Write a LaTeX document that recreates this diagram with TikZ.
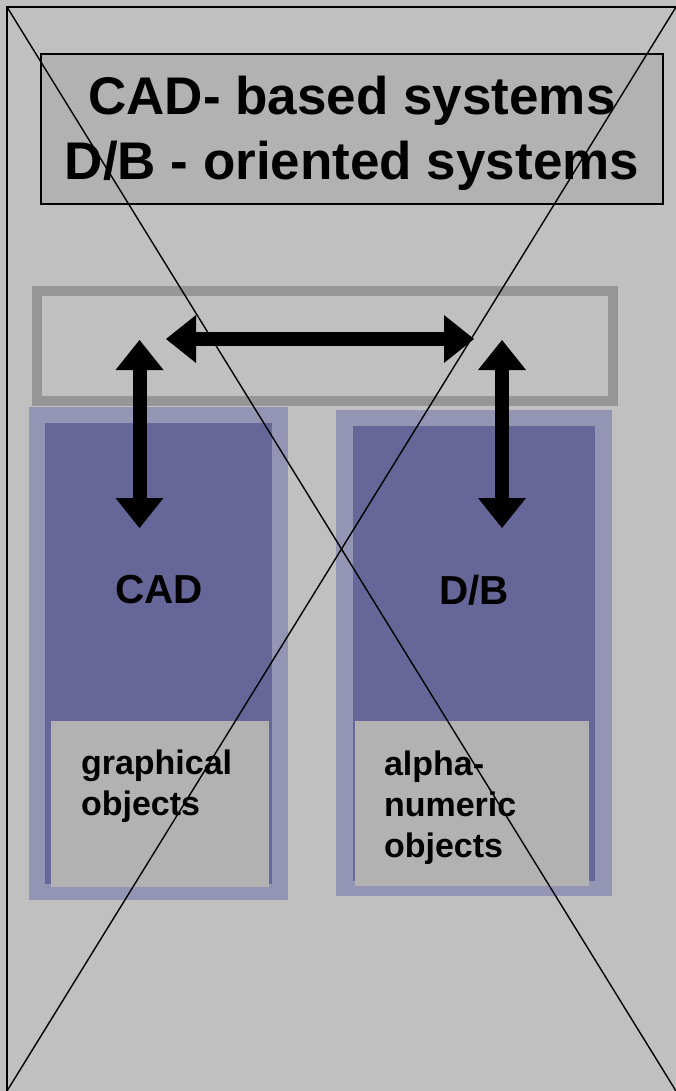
\documentclass[tikz,border=0pt]{standalone}
\usepackage{fontspec}
\setmainfont{Liberation Sans}
\usetikzlibrary{arrows.meta}

\definecolor{bggray}{HTML}{C0C0C0}
\definecolor{boxgray}{HTML}{B2B2B2}
\definecolor{framegray}{HTML}{969696}
\definecolor{lilac}{HTML}{9494B4}
\definecolor{slate}{HTML}{666699}

\begin{document}
\begin{tikzpicture}[x=1pt,y=-1pt,
  every node/.style={inner sep=0pt,outer sep=0pt},
  panel/.style={rectangle,anchor=north west},
  titletext/.style={font=\bfseries\fontsize{53}{64}\selectfont},
  labeltext/.style={font=\bfseries\fontsize{40.5}{48}\selectfont},
  objtext/.style={font=\bfseries\fontsize{34}{41}\selectfont,align=left},
  bigarrow/.style={line width=14pt,{Triangle[length=30pt,width=48pt,line width=0pt]}-{Triangle[length=30pt,width=48pt,line width=0pt]}},
  xline/.style={line width=1.4pt}]
\useasboundingbox (0,0) rectangle (676,1091);
\clip (0,0) rectangle (676,1091);

% page background and outer frame
\fill[bggray] (0,0) rectangle (676,1091);
\draw[line width=2pt] (7,7) rectangle (690,1105);

% title box
\node[panel,draw,line width=2pt,fill=boxgray,minimum width=622pt,minimum height=150pt] (title) at (41,54) {};
\node[titletext,anchor=base] (t1) at (352,115) {CAD- based systems};
\node[titletext,anchor=base] (t2) at (352,180) {D/B - oriented systems};

% linking bar
\node[panel,draw=framegray,line width=10pt,minimum width=576pt,minimum height=110pt] (bar) at (37,291) {};

% CAD column
\node[panel,fill=lilac,minimum width=259pt,minimum height=493pt] (cadout) at (29,407) {};
\node[panel,fill=slate,minimum width=227pt,minimum height=461pt] (cadin) at (45,423) {};
\node[panel,fill=boxgray,minimum width=218pt,minimum height=166pt] (cadobj) at (51,721) {};
\node[labeltext,anchor=base] (cadlbl) at (159,603) {CAD};
% multi-line nodes: base anchor sits on the last line
\node[objtext,anchor=base west] (gtext) at (81,815) {graphical\\objects};

% D/B column
\node[panel,fill=lilac,minimum width=276pt,minimum height=486pt] (dbout) at (336,410) {};
\node[panel,fill=slate,minimum width=242pt,minimum height=455pt] (dbin) at (353,426) {};
\node[panel,fill=boxgray,minimum width=234pt,minimum height=165pt] (dbobj) at (355,721) {};
\node[labeltext,anchor=base] (dblbl) at (474,604) {D/B};
\node[objtext,anchor=base west] (atext) at (384,857) {alpha-\\numeric\\objects};

% double arrows
\coordinate (hL) at (166,339);
\coordinate (hR) at (474,339);
\coordinate (cT) at (139.5,340);
\coordinate (cB) at (139.5,528);
\coordinate (dT) at (502,340);
\coordinate (dB) at (502,528);
\draw[bigarrow] (hL) -- (hR);
\draw[bigarrow] (cT) -- (cB);
\draw[bigarrow] (dT) -- (dB);

% crossing diagonals
\coordinate (tl) at (7,7);
\coordinate (tr) at (676,7);
\coordinate (bl) at (7,1091);
\coordinate (br) at (676,1091);
\draw[xline] (tl) -- (br);
\draw[xline] (tr) -- (bl);
\end{tikzpicture}
\end{document}
